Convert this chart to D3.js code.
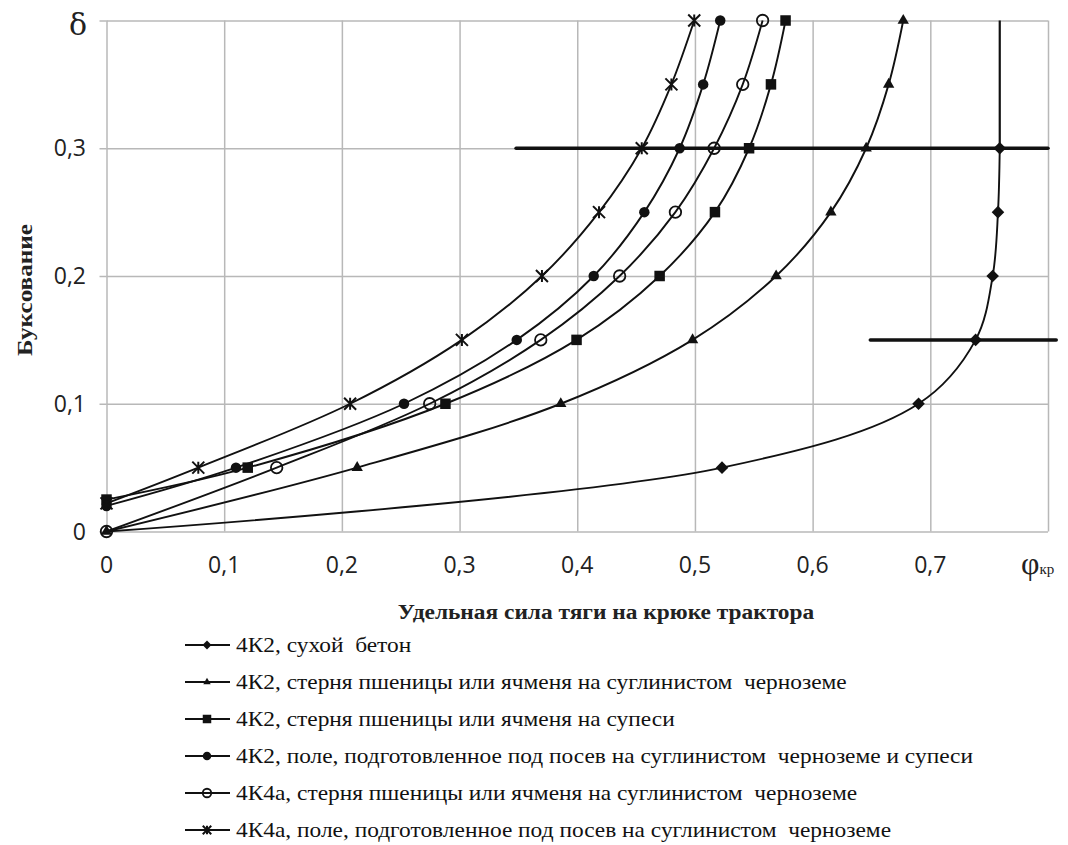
<!DOCTYPE html>
<html>
<head>
<meta charset="utf-8">
<script src="https://cdn.jsdelivr.net/npm/d3@7"></script>
<style>
  body { margin: 0; background: #fff; }
  svg { display: block; }
  .grid line { stroke: #b8b8b8; stroke-width: 1.5; }
  .grid path { display: none; }
  .tick-lbl { font-family: "Open Sans", sans-serif; font-size: 23px; fill: #222; }
  .legend text { font-family: "Liberation Serif", serif; font-size: 20px; fill: #111; white-space: pre; }
</style>
</head>
<body>
<div id="chart"></div>
<script>
// tick values
const xTicks = [0, 0.1, 0.2, 0.3, 0.4, 0.5, 0.6, 0.7, 0.8];
const yTicks = [0, 0.1, 0.2, 0.3, 0.4];

// series names (legend order)
const names = [
  "4К2, сухой  бетон",
  "4К2, стерня пшеницы или ячменя на суглинистом  черноземе",
  "4К2, стерня пшеницы или ячменя на супеси",
  "4К2, поле, подготовленное под посев на суглинистом  черноземе и супеси",
  "4К4а, стерня пшеницы или ячменя на суглинистом  черноземе",
  "4К4а, поле, подготовленное под посев на суглинистом  черноземе"
];
const markers = ["diamond", "triangle", "square", "circle", "ring", "star"];

// phi_kr values (x) and slip values (y) per series
const concreteX = [0, 0.523, 0.690, 0.7385, 0.753, 0.7575, 0.759];
const concreteY = [0, 0.05, 0.10, 0.15, 0.20, 0.25, 0.30];
const stubbleLoamX = [0, 0.213, 0.386, 0.498, 0.569, 0.6155, 0.6455, 0.6646, 0.677];
const stubbleLoamY = [0, 0.05, 0.10, 0.15, 0.20, 0.25, 0.30, 0.35, 0.40];
const stubbleSandX = [0, 0.120, 0.288, 0.3994, 0.470, 0.517, 0.546, 0.5646, 0.577];
const stubbleSandY = [0.025, 0.05, 0.10, 0.15, 0.20, 0.25, 0.30, 0.35, 0.40];
const fieldX = [0, 0.110, 0.2528, 0.3486, 0.414, 0.457, 0.487, 0.507, 0.5215];
const fieldY = [0.020, 0.05, 0.10, 0.15, 0.20, 0.25, 0.30, 0.35, 0.40];
const k4StubbleX = [0, 0.1446, 0.2746, 0.369, 0.436, 0.4834, 0.5163, 0.5406, 0.5575];
const k4StubbleY = [0, 0.05, 0.10, 0.15, 0.20, 0.25, 0.30, 0.35, 0.40];
const k4FieldX = [0, 0.078, 0.207, 0.302, 0.370, 0.4185, 0.4548, 0.480, 0.4994];
const k4FieldY = [0.022, 0.05, 0.10, 0.15, 0.20, 0.25, 0.30, 0.35, 0.40];

const seriesX = [concreteX, stubbleLoamX, stubbleSandX, fieldX, k4StubbleX, k4FieldX];
const seriesY = [concreteY, stubbleLoamY, stubbleSandY, fieldY, k4StubbleY, k4FieldY];

// thick reference lines drawn over the chart: [x1, y1, x2, y2]
const refLines = [[0.348, 0.30, 0.80, 0.30], [0.649, 0.15, 0.807, 0.15]];
const refVertical = [0.759, 0.30, 0.759, 0.40];

const W = 1068, H = 845;
const m = {l: 106.5, r: 1048, t: 20.5, b: 531.5};
const stretch = 1.17;   // the source text is drawn horizontally wider than the font

const svg = d3.select("#chart").append("svg").attr("width", W).attr("height", H);

const x = d3.scaleLinear().domain([0, 0.8]).range([m.l, m.r]);
const y = d3.scaleLinear().domain([0, 0.4]).range([m.b, m.t]);
const fmt = d3.formatLocale({decimal: ",", thousands: " ", grouping: [3], currency: ["", ""]}).format("~g");

// grid
svg.append("g").attr("class", "grid")
  .attr("transform", "translate(0," + m.b + ")")
  .call(d3.axisBottom(x).tickValues(xTicks).tickSize(-(m.b - m.t)).tickFormat(""));
svg.append("g").attr("class", "grid")
  .attr("transform", "translate(" + m.l + ",0)")
  .call(d3.axisLeft(y).tickValues(yTicks).tickSize(-(m.r - m.l)).tickFormat(""));
// small tick stubs left of y axis
svg.append("g").attr("class", "grid")
  .attr("transform", "translate(" + m.l + ",0)")
  .call(d3.axisLeft(y).tickValues(yTicks).tickSize(7).tickFormat(""));

// tick labels
svg.append("g").selectAll("text").data(xTicks.slice(0, 8)).enter().append("text")
  .attr("class", "tick-lbl").attr("x", d => x(d)).attr("y", 573)
  .attr("text-anchor", "middle").text(d => fmt(d));
svg.append("g").selectAll("text").data(yTicks.slice(0, 4)).enter().append("text")
  .attr("class", "tick-lbl").attr("x", 86).attr("y", d => y(d) + 8)
  .attr("text-anchor", "end").text(d => fmt(d));

// axis symbols
svg.append("text").attr("x", 78).attr("y", 35).attr("text-anchor", "middle")
  .style("font-family", "'DejaVu Serif', serif").style("font-size", "30px").style("fill", "#222").text("δ");
const phi = svg.append("text").attr("x", 1021).attr("y", 574)
  .style("font-family", "'Liberation Serif', serif").style("font-size", "32px").style("fill", "#222");
phi.append("tspan").text("φ");
phi.append("tspan").style("font-size", "15px").text("кр");

// axis titles
svg.append("text").attr("transform", "translate(32,290) rotate(-90)").attr("text-anchor", "middle")
  .style("font-family", "'Liberation Serif', serif").style("font-weight", "bold").style("font-size", "21px")
  .style("fill", "#222").attr("textLength", 132).attr("lengthAdjust", "spacingAndGlyphs")
  .text("Буксование");
svg.append("text").attr("transform", "translate(606,619) scale(" + stretch + ",1)").attr("text-anchor", "middle")
  .style("font-family", "'Liberation Serif', serif").style("font-weight", "bold").style("font-size", "20px")
  .style("fill", "#222").text("Удельная сила тяги на крюке трактора");

// lines
const line = d3.line().x(d => x(d[0])).y(d => y(d[1])).curve(d3.curveCatmullRom.alpha(0.5));
const data = seriesX.map((xs, i) => xs.map((v, j) => [v, seriesY[i][j]]));

svg.append("g").selectAll("path").data(data).enter().append("path")
  .attr("d", line).attr("fill", "none").attr("stroke", "#111").attr("stroke-width", 1.9);

svg.append("line")
  .attr("x1", x(refVertical[0])).attr("y1", y(refVertical[1]))
  .attr("x2", x(refVertical[2])).attr("y2", y(refVertical[3]))
  .attr("stroke", "#111").attr("stroke-width", 2.2);

svg.append("g").selectAll("line").data(refLines).enter().append("line")
  .attr("x1", d => x(d[0])).attr("y1", d => y(d[1]))
  .attr("x2", d => x(d[2])).attr("y2", d => y(d[3]))
  .attr("stroke", "#111").attr("stroke-width", 3.5).attr("stroke-linecap", "round");

// marker drawing
function drawMarker(g, type, s) {
  if (type === "diamond") {
    g.append("path").attr("d", d3.symbol(d3.symbolDiamond2, s * s * 0.7)()).attr("fill", "#111");
  } else if (type === "triangle") {
    g.append("path").attr("d", d3.symbol(d3.symbolTriangle2, s * s * 0.55)()).attr("fill", "#111");
  } else if (type === "square") {
    g.append("rect").attr("x", -s / 2).attr("y", -s / 2).attr("width", s).attr("height", s).attr("fill", "#111");
  } else if (type === "circle") {
    g.append("circle").attr("r", s / 2).attr("fill", "#111");
  } else if (type === "ring") {
    g.append("circle").attr("r", s / 2).attr("fill", "none").attr("stroke", "#111").attr("stroke-width", 1.8);
  } else if (type === "star") {
    const h = s / 2;
    g.append("path").attr("d", `M${-h},${-h}L${h},${h}M${h},${-h}L${-h},${h}M0,${-h}L0,${h}`)
      .attr("stroke", "#111").attr("stroke-width", 2).attr("fill", "none");
  }
}

const sizes = {diamond: 12, triangle: 13, square: 10.5, circle: 10.5, ring: 11.5, star: 12};
data.forEach((pts, i) => {
  const type = markers[i];
  const g = svg.append("g");
  pts.forEach(p => {
    if (type === "diamond" && p[1] === 0) return;
    const mg = g.append("g").attr("transform", "translate(" + x(p[0]) + "," + y(p[1]) + ")");
    drawMarker(mg, type, sizes[type]);
  });
});

// legend
const leg = svg.append("g").attr("class", "legend");
const legItems = leg.selectAll("g").data(names).enter().append("g")
  .attr("transform", (d, i) => "translate(0," + (645 + i * 37) + ")");
legItems.append("line").attr("x1", 185).attr("x2", 230).attr("stroke", "#111").attr("stroke-width", 2);
legItems.each(function(d, i) {
  const mg = d3.select(this).append("g").attr("transform", "translate(207,0)");
  drawMarker(mg, markers[i], 8.5);
});
legItems.append("text").attr("transform", "translate(236,6.5) scale(" + stretch + ",1)").text(d => d);
</script>
</body>
</html>
